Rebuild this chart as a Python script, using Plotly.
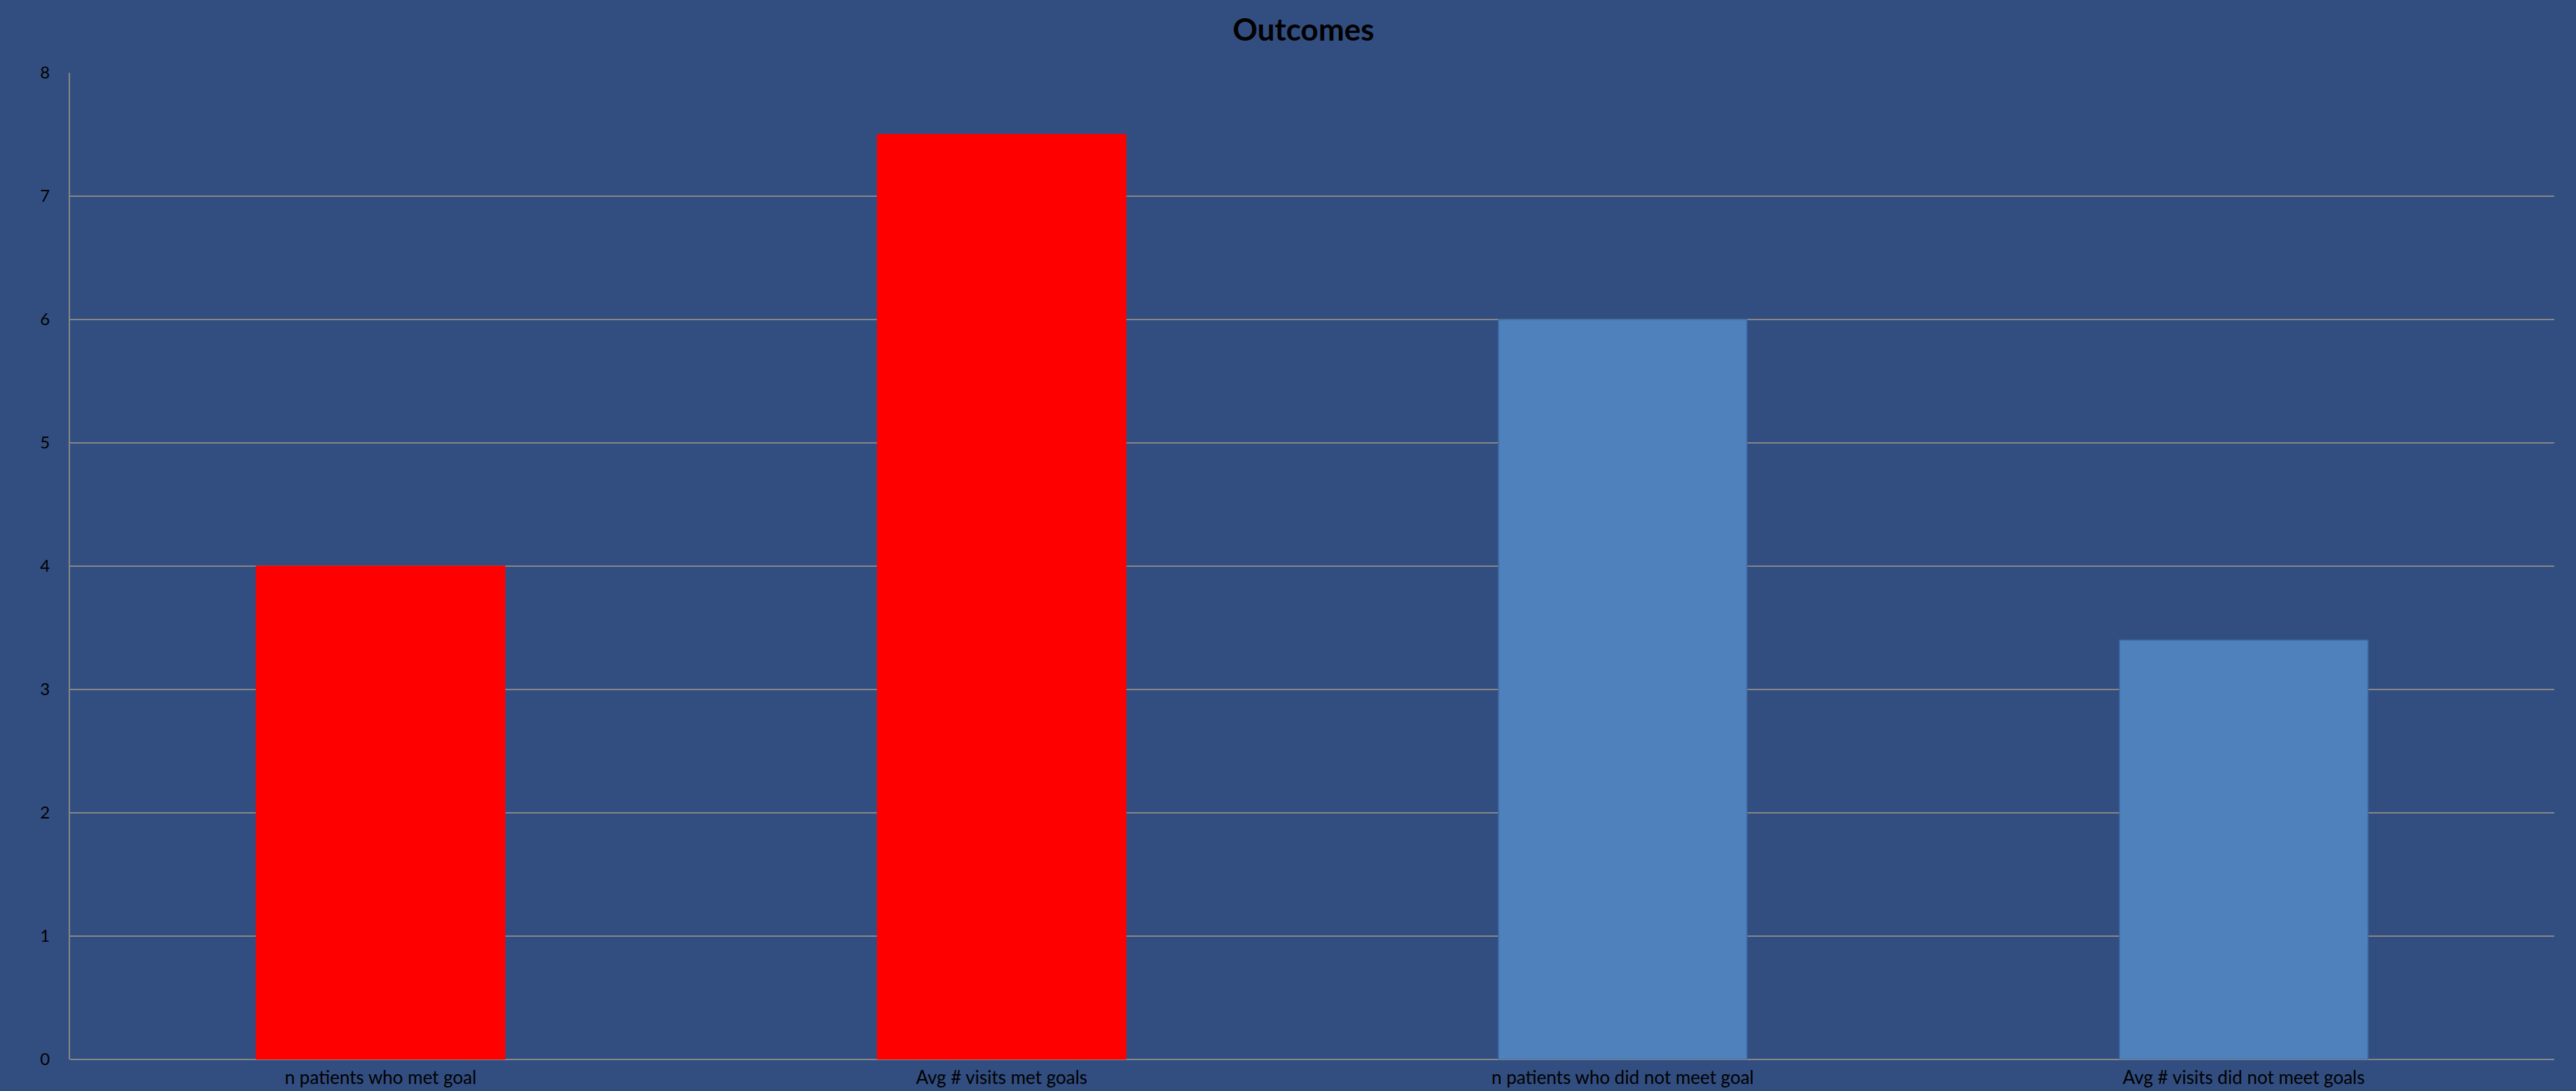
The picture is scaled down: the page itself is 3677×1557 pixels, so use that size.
import plotly.graph_objects as go

categories = ["n patients who met goal", "Avg # visits met goals",
              "n patients who did not meet goal", "Avg # visits did not meet goals"]
values = [4, 7.5, 6, 3.4]
bar_colors = ["#FF0000", "#FF0000", "#4F81BD", "#4F81BD"]
line_colors = ["#FF0000", "#FF0000", "#3D6BA6", "#3D6BA6"]
y_ticks = [0, 1, 2, 3, 4, 5, 6, 7, 8]

W, H = 3677, 1557
BG = "#324E80"
GRID = "#868686"

fig = go.Figure()
fig.add_trace(go.Bar(
    x=categories, y=values,
    marker=dict(color=bar_colors, line=dict(color=line_colors, width=1.5)),
    width=0.4, showlegend=False, hoverinfo="x+y",
))

fig.update_layout(
    width=W, height=H,
    paper_bgcolor=BG, plot_bgcolor=BG,
    margin=dict(l=100, r=31, t=104, b=45, autoexpand=False),
    title=dict(text="<b>Outcomes</b>", x=0.506, xanchor="center",
               y=1 - 43 / H, yanchor="middle",
               font=dict(family="Lato", size=44, color="black")),
    font=dict(family="Lato", color="black"),
    bargap=0.6,
)
fig.update_xaxes(
    showgrid=False, showline=False, zeroline=False, ticks="",
    tickfont=dict(size=26, color="black"), automargin=False,
    ticklabelstandoff=8,
)
fig.update_yaxes(
    range=[0, 8], tickvals=y_ticks, ticktext=[str(v) for v in y_ticks],
    showgrid=True, gridcolor=GRID, gridwidth=2,
    zeroline=True, zerolinecolor=GRID, zerolinewidth=2,
    showline=True, linecolor=GRID, linewidth=2,
    ticks="", ticklabelstandoff=22,
    tickfont=dict(size=24, color="black"), automargin=False,
)

post = ("document.body.style.margin='0';"
        "document.body.style.padding='0';"
        "document.body.style.overflow='hidden';"
        "document.body.style.background='" + BG + "';")
fig.write_html("out.html", post_script=post, config={"displayModeBar": False})
